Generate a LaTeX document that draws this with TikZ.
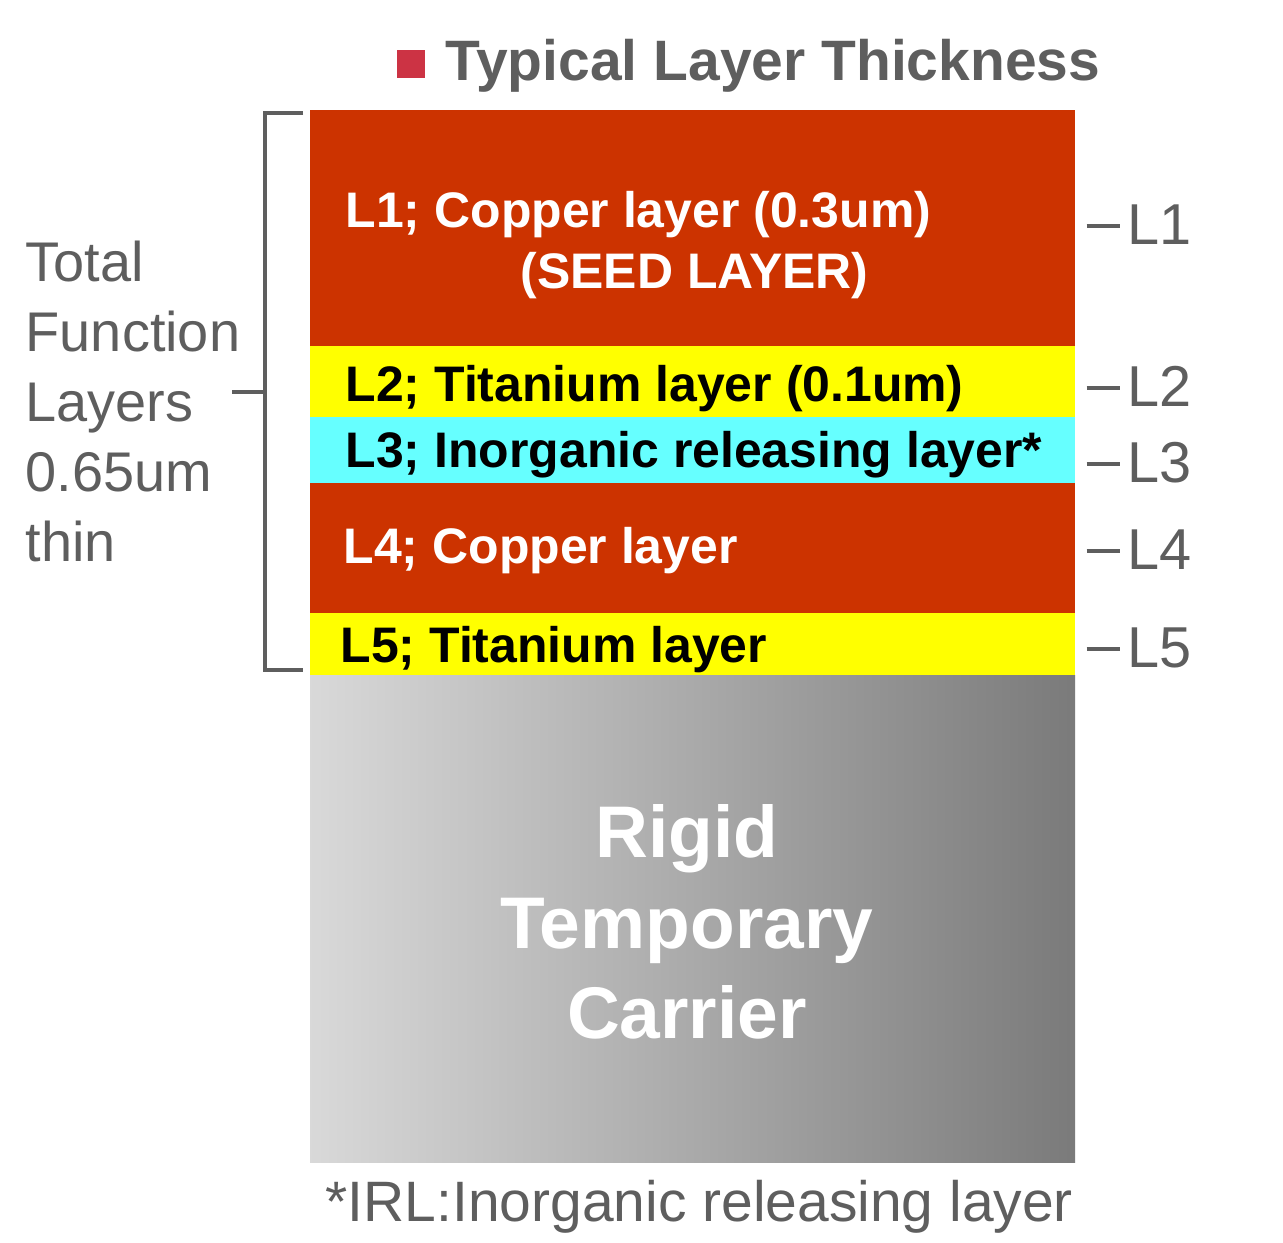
\documentclass[tikz,border=0pt]{standalone}
\usepackage{fontspec}
\setmainfont{Liberation Sans}
\usetikzlibrary{calc}
\definecolor{copper}{HTML}{CC3300}
\definecolor{tiyellow}{HTML}{FFFF00}
\definecolor{irlcyan}{HTML}{66FFFF}
\definecolor{textgray}{HTML}{5E5E5E}
\definecolor{markred}{HTML}{CC3344}
\newcommand{\tagdash}{\rule[0.27em]{0.57em}{0.07em}\hspace{0.14em}}
\begin{document}
\begin{tikzpicture}[x=0.01cm,y=-0.01cm]
\path [use as bounding box] (0,0) rectangle (1283,1242);
\tikzset{every node/.style={inner sep=0pt, anchor=base west},
  laytext/.style={font=\fontsize{14.2}{17}\selectfont\bfseries},
  sidetext/.style={text=textgray, font=\fontsize{15.9}{19.9}\selectfont},
  tag/.style={text=textgray, font=\fontsize{16.4}{19}\selectfont}}
% title
\fill[markred] (397,50) rectangle (425,78);
\node[text=textgray, font=\fontsize{16.2}{20}\selectfont\bfseries] (title) at (445,80) {Typical Layer Thickness};
% layers
\coordinate (L1top) at (310,110);
\fill[copper] (L1top) rectangle (1075,346);
\fill[tiyellow] (310,346) rectangle (1075,417);
\fill[irlcyan] (310,417) rectangle (1075,483);
\fill[copper] (310,483) rectangle (1075,613);
\fill[tiyellow] (310,613) rectangle (1075,675);
\shade[left color=black!15, right color=black!52] (310,675) rectangle (1075,1162);
\node[laytext, text=white] (t1) at (345,227) {L1; Copper layer (0.3um)};
\node[laytext, text=white] (t1b) at (520,288) {(SEED LAYER)};
\node[laytext] (t2) at (345,401) {L2; Titanium layer (0.1um)};
\node[laytext] (t3) at (345,467) {L3; Inorganic releasing layer*};
\node[laytext, text=white] (t4) at (343,563) {L4; Copper layer};
\node[laytext] (t5) at (340,662) {L5; Titanium layer};
\node[anchor=base, text=white, align=center, font=\fontsize{20.8}{25.6}\selectfont\bfseries] (carrier) at (687,1038) {Rigid\\Temporary\\Carrier};
% right tags
\node[tag] (r1) at (1086,244) {\tagdash L1};
\node[tag] (r2) at (1086,406) {\tagdash L2};
\node[tag] (r3) at (1086,482) {\tagdash L3};
\node[tag] (r4) at (1086,569) {\tagdash L4};
\node[tag] (r5) at (1086,667) {\tagdash L5};
% bracket
\draw[textgray, line width=1pt] (303,113) -- (265,113) -- (265,670) -- (303,670);
\draw[textgray, line width=1pt] (232,392) -- (265,392);
\node[sidetext, align=left, anchor=north west] (total) at (25,240) {Total\\Function\\Layers\\0.65um\\thin};
% footer
\node[text=textgray, font=\fontsize{16.2}{19}\selectfont] (irl) at (325,1221) {*IRL:Inorganic releasing layer};
\end{tikzpicture}
\end{document}
